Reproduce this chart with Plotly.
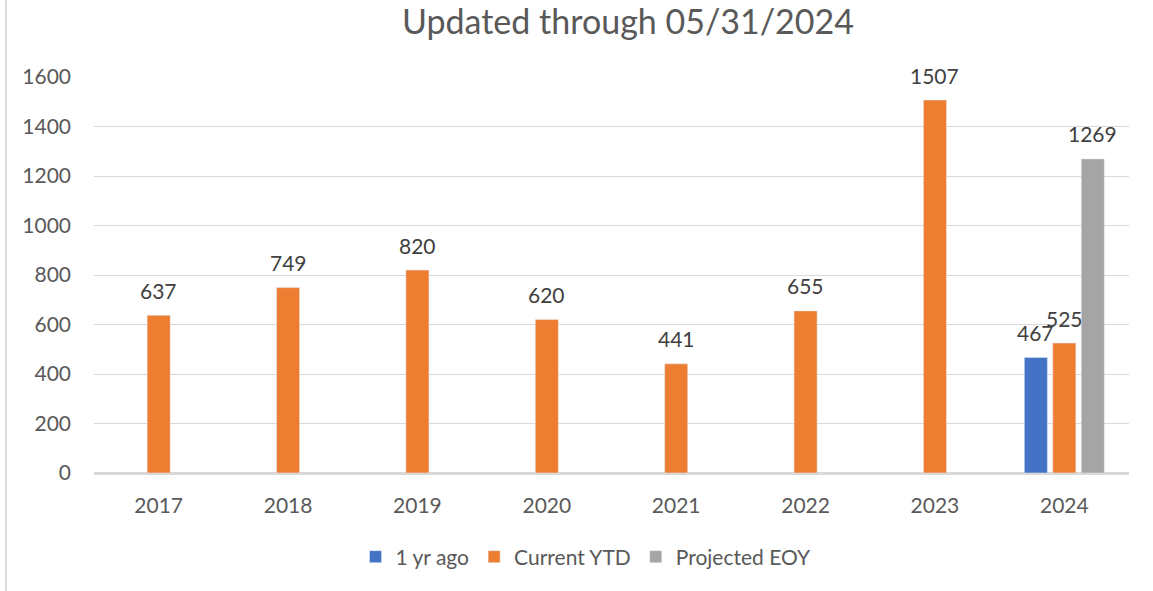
import plotly.graph_objects as go

years = ["2017", "2018", "2019", "2020", "2021", "2022", "2023", "2024"]
one_yr_ago = [None, None, None, None, None, None, None, 467]
current_ytd = [637, 749, 820, 620, 441, 655, 1507, 525]
projected_eoy = [None, None, None, None, None, None, None, 1269]
y_ticks = [0, 200, 400, 600, 800, 1000, 1200, 1400, 1600]

FONT = "Lato, 'Open Sans', sans-serif"
W, H = 1153, 591
ML, MR, MT, MB = 94, 24, 77, 118
BARGAP, BARGROUPGAP = 0.34, 0.19

series = [
    ("1 yr ago", one_yr_ago, "#4472C4"),
    ("Current YTD", current_ytd, "#ED7D31"),
    ("Projected EOY", projected_eoy, "#A5A5A5"),
]

fig = go.Figure()
for name, vals, col in series:
    fig.add_trace(go.Bar(name=name, x=years, y=vals, marker_color=col))

# data labels above bars (x given as category index)
cat_px = (W - ML - MR) / len(years)
slot_px = cat_px * (1 - BARGAP) / len(series)
annotations = []
for i, (name, vals, col) in enumerate(series):
    xs = (i - (len(series) - 1) / 2) * slot_px
    for k, v in enumerate(vals):
        if v is None:
            continue
        annotations.append(dict(x=k, y=v, xref="x", yref="y", text=str(v), showarrow=False,
                                xshift=xs, yshift=25, yanchor="middle",
                                font=dict(family=FONT, size=21, color="#404040")))

fig.update_layout(
    width=W, height=H,
    barmode="group", bargap=BARGAP, bargroupgap=BARGROUPGAP,
    paper_bgcolor="white", plot_bgcolor="white",
    margin=dict(l=ML, r=MR, t=MT, b=MB, autoexpand=False),
    font=dict(family=FONT, color="#595959"),
    title=dict(text="Updated through 05/31/2024", x=628/W, xref="container", xanchor="center",
               y=1-22/H, yref="container", yanchor="middle",
               font=dict(family=FONT, size=34, color="#595959")),
    legend=dict(orientation="h", x=586/W, xanchor="center", xref="container",
                y=1-557/H, yref="container", yanchor="middle",
                font=dict(family=FONT, size=21, color="#595959"),
                itemwidth=30, traceorder="normal"),
    showlegend=True,
    annotations=annotations,
    shapes=[dict(type="line", xref="paper", yref="paper",
                 x0=(6-ML)/(W-ML-MR), x1=(6-ML)/(W-ML-MR),
                 y0=-MB/(H-MT-MB), y1=1 + MT/(H-MT-MB),
                 line=dict(color="#d9d9d9", width=2))],
)
fig.update_yaxes(range=[0, 1600], tickvals=y_ticks, showgrid=True, gridcolor="#d9d9d9", gridwidth=1,
                 zeroline=True, zerolinecolor="#d9d9d9", zerolinewidth=1.5, showline=False,
                 tickfont=dict(family=FONT, size=21, color="#595959"), ticks="", ticklabelstandoff=22,
                 automargin=False)
fig.update_xaxes(type="category", range=[-0.5, len(years) - 0.5], showgrid=False, showline=True,
                 linecolor="#d9d9d9", linewidth=1.5,
                 tickfont=dict(family=FONT, size=21, color="#595959"), ticks="", ticklabelstandoff=13,
                 automargin=False)

fig.write_html("out.html", config={"displayModeBar": False},
               post_script="document.body.style.margin='0';")
